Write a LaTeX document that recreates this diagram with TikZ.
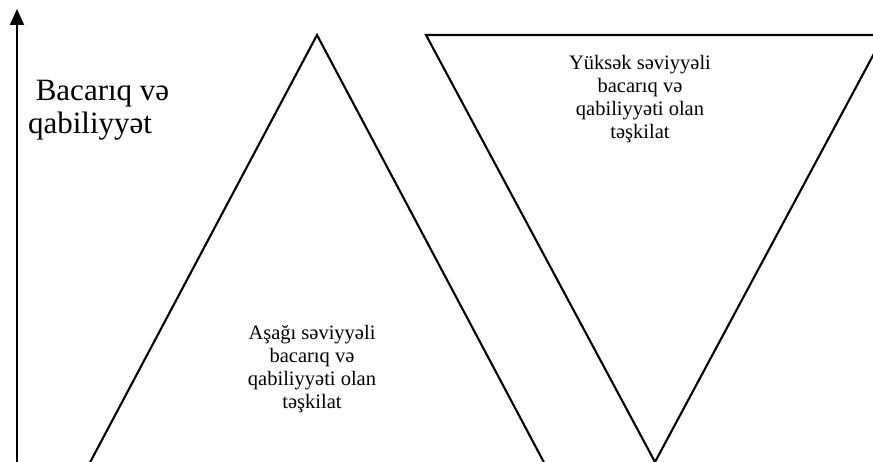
\documentclass[tikz,border=0pt]{standalone}
\usepackage{fontspec}
\setmainfont{Liberation Serif}
\usetikzlibrary{arrows.meta}

\colorlet{figLine}{black}
\colorlet{figText}{black}

\begin{document}
\begin{tikzpicture}[x=1pt, y=-1pt, line width=2.1pt,
        orgtext/.style={align=center, inner sep=0pt, figText,
              font=\fontsize{20.5}{23}\selectfont},
        axistext/.style={align=left, inner sep=0pt, figText,
              font=\fontsize{31}{33}\selectfont}]
        \useasboundingbox (0,0) rectangle (873,462);
        \clip (0,0) rectangle (873,462);
        \coordinate (axisFoot) at (17,462);
        \coordinate (axisTip) at (17,9);
        \draw[-{Triangle[length=16pt, width=14pt]}, figLine]
              (axisFoot)--(axisTip);
        \draw[figLine, line join=miter]
              (317,35)--(86,470)--(548,470)--cycle;
        \draw[figLine, line join=miter]
              (426,35)--(884,35)--(655,462)--cycle;
        \node[axistext, anchor=base west] (axisName)
              at (27,134){\ Bacarıq və\\qabiliyyət};
        \node[orgtext, anchor=base] (highOrg)
              at (640,139){Yüksək səviyyəli\\bacarıq və\\qabiliyyəti olan\\təşkilat};
        \node[orgtext, anchor=base] (lowOrg)
              at (312,408){Aşağı səviyyəli\\bacarıq və\\qabiliyyəti olan\\təşkilat};
      \end{tikzpicture}
\end{document}
